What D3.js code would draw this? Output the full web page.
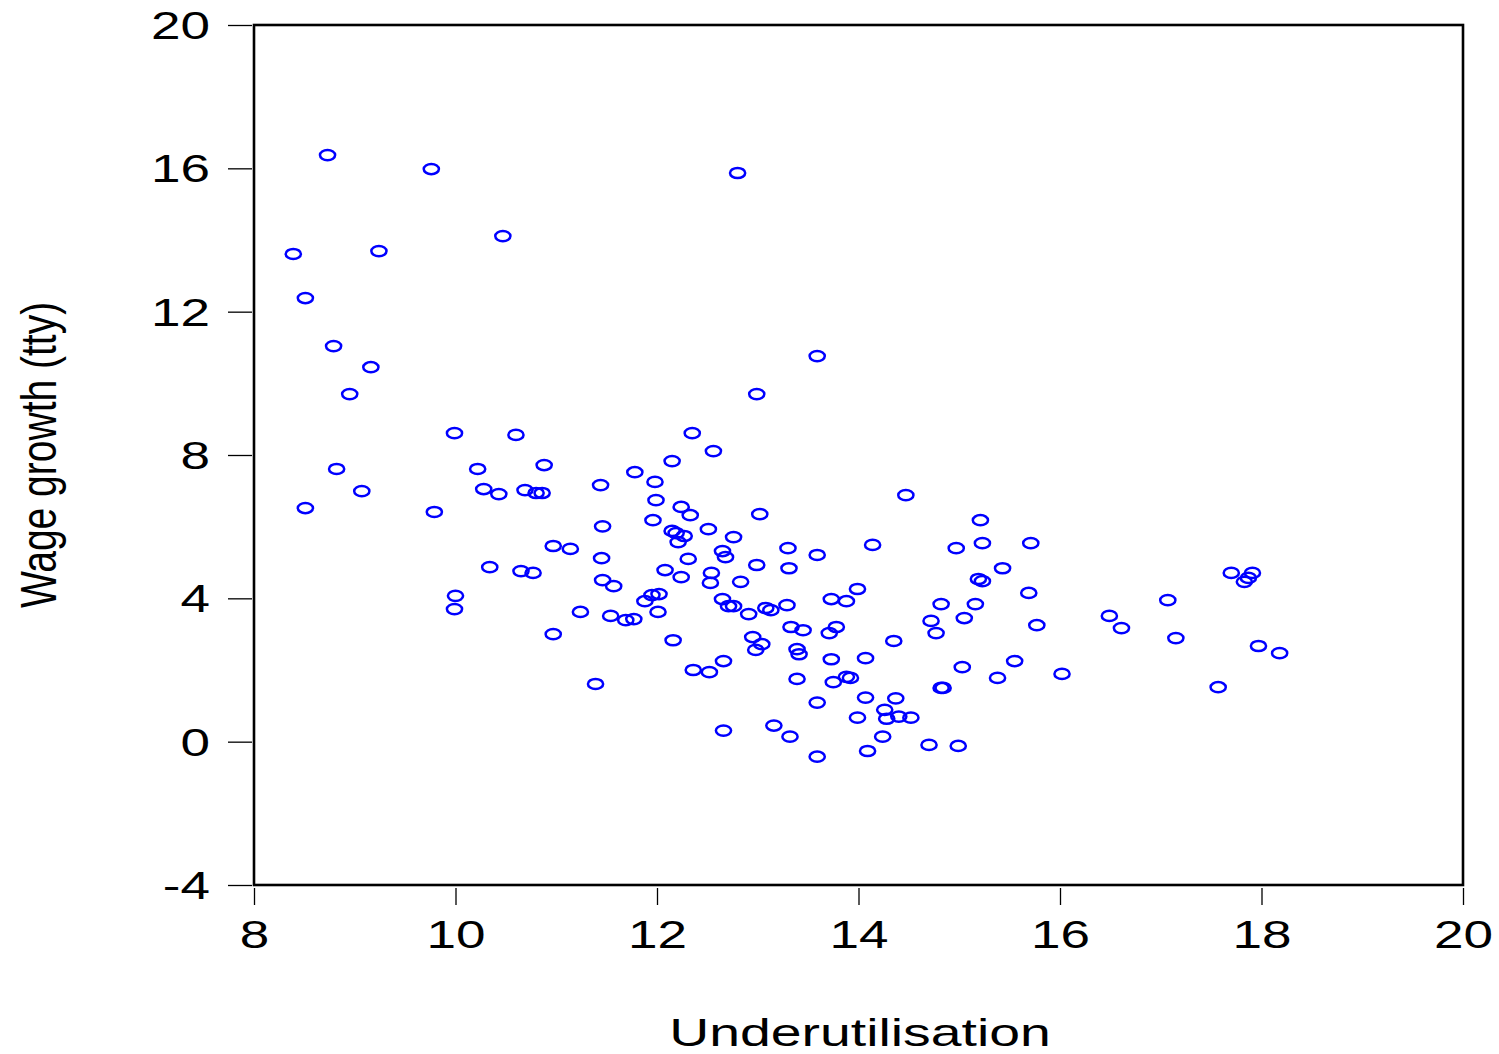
<!DOCTYPE html>
<html>
<head>
<meta charset="utf-8">
<script src="https://cdn.jsdelivr.net/npm/d3@7"></script>
<style>
  body { margin: 0; background: #fff; }
  svg { display: block; }
  text { font-family: "Liberation Sans", Arial, sans-serif; fill: #000; }
</style>
</head>
<body>
<div class="chart"></div>
<script>
// underutilisation (x) and wage growth tty (y)
var underutil = [
  8.73, 9.76, 12.80, 8.39, 9.24, 10.47, 8.51, 8.79, 9.16, 8.95,
  13.59, 12.99, 9.99, 10.60, 12.35, 12.56, 12.15, 10.88, 10.22, 8.82,
  11.78, 11.98, 11.44, 10.28, 9.07, 10.43, 10.69, 10.80, 10.86, 11.99,
  14.47, 8.51, 9.79, 12.24, 12.33, 13.02, 11.96, 15.21, 11.46, 12.51,
  12.15, 12.19, 12.27, 12.76, 12.21, 15.23, 15.71, 10.97, 11.14, 14.14,
  13.30, 14.97, 12.65, 12.68, 13.59, 11.45, 12.31, 12.99, 13.31, 15.43,
  10.34, 10.65, 10.77, 12.08, 12.54, 12.24, 17.70, 17.91, 17.87, 17.83,
  15.19, 15.23, 11.46, 11.57, 12.53, 12.83, 13.99, 15.69, 10.00, 11.95,
  12.02, 11.88, 12.65, 13.73, 13.88, 17.07, 9.99, 12.71, 12.76, 13.08,
  13.13, 13.29, 14.82, 15.16, 11.24, 11.54, 11.69, 11.77, 12.01, 12.91,
  15.05, 16.49, 14.72, 15.77, 16.61, 13.33, 13.78, 13.45, 13.71, 14.77,
  10.97, 12.95, 12.16, 14.35, 17.15, 13.04, 17.97, 13.39, 12.98, 13.41,
  18.18, 12.66, 13.73, 14.07, 15.55, 15.03, 12.36, 12.52, 16.02, 13.88,
  13.92, 13.39, 15.38, 13.75, 11.39, 14.82, 14.84, 17.57, 14.07, 14.37,
  13.59, 14.26, 14.40, 14.28, 14.52, 13.99, 13.16, 12.66, 13.32, 14.24,
  14.70, 14.99, 14.09, 13.59
];
var wageGrowth = [
  16.37, 15.98, 15.87, 13.61, 13.69, 14.11, 12.38, 11.04, 10.45, 9.70,
  10.76, 9.70, 8.61, 8.56, 8.61, 8.11, 7.83, 7.72, 7.61, 7.61,
  7.52, 7.25, 7.16, 7.05, 6.99, 6.91, 7.02, 6.94, 6.94, 6.74,
  6.88, 6.52, 6.41, 6.55, 6.32, 6.35, 6.18, 6.18, 6.01, 5.93,
  5.88, 5.82, 5.74, 5.71, 5.57, 5.54, 5.54, 5.46, 5.38, 5.49,
  5.40, 5.40, 5.32, 5.15, 5.21, 5.12, 5.10, 4.93, 4.84, 4.84,
  4.87, 4.76, 4.71, 4.79, 4.71, 4.59, 4.71, 4.71, 4.57, 4.46,
  4.54, 4.48, 4.51, 4.34, 4.43, 4.46, 4.26, 4.15, 4.07, 4.09,
  4.12, 3.92, 3.98, 3.98, 3.92, 3.95, 3.70, 3.78, 3.78, 3.73,
  3.67, 3.81, 3.84, 3.84, 3.62, 3.51, 3.39, 3.42, 3.62, 3.56,
  3.45, 3.51, 3.37, 3.25, 3.17, 3.20, 3.20, 3.11, 3.03, 3.03,
  3.00, 2.92, 2.83, 2.81, 2.89, 2.72, 2.67, 2.58, 2.56, 2.44,
  2.47, 2.25, 2.30, 2.33, 2.25, 2.08, 2.00, 1.94, 1.89, 1.81,
  1.78, 1.75, 1.78, 1.66, 1.61, 1.50, 1.50, 1.52, 1.23, 1.21,
  1.09, 0.89, 0.70, 0.64, 0.67, 0.67, 0.45, 0.31, 0.14, 0.14,
  -0.09, -0.12, -0.26, -0.42
];
var xTicks = [8, 10, 12, 14, 16, 18, 20];
var yTicks = [-4, 0, 4, 8, 12, 16, 20];

var svgWidth = 1499;
var svgHeight = 1054;
var margin = { top: 25, right: 36, bottom: 169, left: 254 };
var width = svgWidth - margin.left - margin.right;
var height = svgHeight - margin.top - margin.bottom;

var svg = d3.select(".chart")
  .append("svg")
  .attr("width", svgWidth)
  .attr("height", svgHeight);

var chartGroup = svg.append("g")
  .attr("transform", `translate(${margin.left}, ${margin.top})`);

var xScale = d3.scaleLinear().domain([8, 20]).range([0, width]);
var yScale = d3.scaleLinear().domain([-4, 20]).range([height, 0]);

// axes (ticks sit outside the frame), plain hyphen for negatives
var yAxis = d3.axisLeft(yScale).tickValues(yTicks).tickSize(24).tickFormat(d => String(d));
var xAxis = d3.axisBottom(xScale).tickValues(xTicks).tickSize(17).tickFormat(d => String(d));

var yG = chartGroup.append("g")
  .attr("transform", "translate(-2, 0)")
  .call(yAxis);
var xG = chartGroup.append("g")
  .attr("transform", `translate(0, ${height + 3})`)
  .call(xAxis);

[yG, xG].forEach(function(g) {
  g.select(".domain").remove();
  g.selectAll(".tick line").attr("stroke", "#000").attr("stroke-width", 1.3);
  g.selectAll(".tick text").attr("font-size", 39).attr("fill", "#000");
});

yG.selectAll(".tick text")
  .attr("x", 0)
  .attr("dy", "0.35em")
  .attr("transform", "translate(-42, 0) scale(1.36, 1)");
xG.selectAll(".tick text")
  .attr("y", 0)
  .attr("dy", 0)
  .attr("transform", "translate(0, 60) scale(1.36, 1)");

// frame
chartGroup.append("rect")
  .attr("width", width)
  .attr("height", height)
  .attr("fill", "none")
  .attr("stroke", "#000")
  .attr("stroke-width", 2.6);

// points
chartGroup.selectAll(".dot")
  .data(underutil.map((u, i) => ({ u: u, w: wageGrowth[i] })))
  .enter()
  .append("ellipse")
  .attr("class", "dot")
  .attr("cx", d => xScale(d.u))
  .attr("cy", d => yScale(d.w))
  .attr("rx", 7.6)
  .attr("ry", 5.1)
  .attr("fill", "none")
  .attr("stroke", "#0000ff")
  .attr("stroke-width", 2.5);

// axis titles
svg.append("text")
  .attr("transform", "translate(56, 455) scale(1.3, 1) rotate(-90)")
  .attr("text-anchor", "middle")
  .attr("font-size", 39)
  .text("Wage growth (tty)");

svg.append("text")
  .attr("transform", "translate(860, 1046) scale(1.42, 1)")
  .attr("text-anchor", "middle")
  .attr("font-size", 39)
  .text("Underutilisation");
</script>
</body>
</html>
